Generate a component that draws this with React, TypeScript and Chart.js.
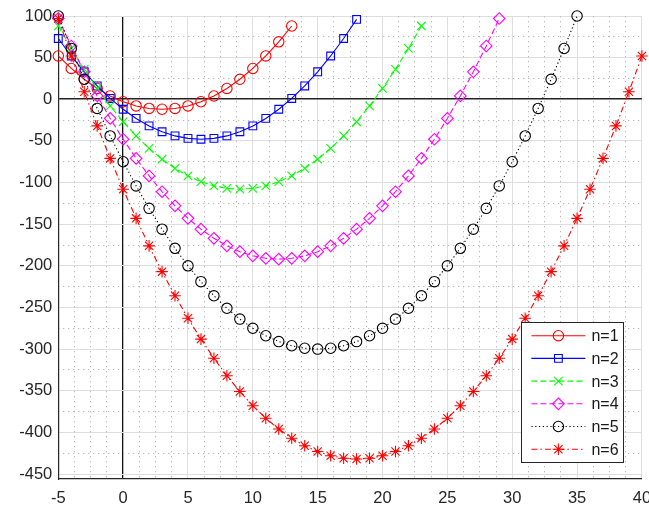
import React, { useEffect, useRef } from 'react';
import { Chart, registerables } from 'chart.js';

Chart.register(...registerables);

// x positions shared by all series (each series uses the first N values)
const X = [-5, -4, -3, -2, -1, 0, 1, 2, 3, 4, 5, 6, 7, 8, 9, 10, 11, 12, 13, 14, 15, 16, 17, 18, 19, 20,
  21, 22, 23, 24, 25, 26, 27, 28, 29, 30, 31, 32, 33, 34, 35, 36, 37, 38, 39, 40];

const Y_N1 = [52, 37, 24, 13, 4, -3, -8, -11, -12, -11, -8, -3, 4, 13, 24, 37, 52, 69, 88];
const Y_N2 = [73, 52, 33, 16, 1, -12, -23, -32, -39, -44, -47, -48, -47, -44, -39, -32, -23, -12, 1, 16, 33, 52, 73, 96];
const Y_N3 = [88, 61, 36, 13, -8, -27, -44, -59, -72, -83, -92, -99, -104, -107, -108, -107, -104, -99, -92, -83,
  -72, -59, -44, -27, -8, 13, 36, 61, 88];
const Y_N4 = [97, 64, 33, 4, -23, -48, -71, -92, -111, -128, -143, -156, -167, -176, -183, -188, -191, -192, -191,
  -188, -183, -176, -167, -156, -143, -128, -111, -92, -71, -48, -23, 4, 33, 64, 97];
const Y_N5 = [100, 61, 24, -11, -44, -75, -104, -131, -156, -179, -200, -219, -236, -251, -264, -275, -284, -291,
  -296, -299, -300, -299, -296, -291, -284, -275, -264, -251, -236, -219, -200, -179, -156, -131, -104, -75, -44,
  -11, 24, 61, 100];
const Y_N6 = [97, 52, 9, -32, -71, -108, -143, -176, -207, -236, -263, -288, -311, -332, -351, -368, -383, -396,
  -407, -416, -423, -428, -431, -432, -431, -428, -423, -416, -407, -396, -383, -368, -351, -332, -311, -288, -263,
  -236, -207, -176, -143, -108, -71, -32, 9, 52];

const SERIES_LABELS = ['n=1', 'n=2', 'n=3', 'n=4', 'n=5', 'n=6'];
const SERIES_Y = [Y_N1, Y_N2, Y_N3, Y_N4, Y_N5, Y_N6];

const X_MIN = -5;
const X_MAX = 40;
const X_STEP = 5;
const Y_MIN = -456;
const Y_MAX = 100;
const Y_STEP = 50;

// styles
const COLORS = ['#ff0000', '#0000ff', '#00ff00', '#ff00ff', '#000000', '#ff0000'];
const MARKERS = ['circle', 'rect', 'crossRot', 'rectRot', 'circle', 'star'];
const MARKER_R = [5.2, 5.5, 6, 5.8, 5.2, 5.8];
const DASHES: number[][] = [[], [], [6, 3], [6, 3], [1.2, 2.6], [6, 3, 1.5, 3]];

const FONT = '"Liberation Sans", Arial, Helvetica, sans-serif';
const TICK_COLOR = '#262626';

function drawMarker(ctx: CanvasRenderingContext2D, style: string, x: number, y: number, r: number, color: string) {
  ctx.save();
  ctx.strokeStyle = color;
  ctx.lineWidth = 1.1;
  ctx.setLineDash([]);
  ctx.beginPath();
  if (style === 'circle') {
    ctx.arc(x, y, r, 0, Math.PI * 2);
  } else if (style === 'rect') {
    const s = r * Math.SQRT1_2;
    ctx.rect(x - s, y - s, 2 * s, 2 * s);
  } else if (style === 'crossRot') {
    const d = r * Math.SQRT1_2;
    ctx.moveTo(x - d, y - d); ctx.lineTo(x + d, y + d);
    ctx.moveTo(x + d, y - d); ctx.lineTo(x - d, y + d);
  } else if (style === 'rectRot') {
    ctx.moveTo(x, y - r); ctx.lineTo(x + r, y); ctx.lineTo(x, y + r); ctx.lineTo(x - r, y); ctx.closePath();
  } else if (style === 'star') {
    const d = r * Math.SQRT1_2;
    ctx.moveTo(x - r, y); ctx.lineTo(x + r, y);
    ctx.moveTo(x, y - r); ctx.lineTo(x, y + r);
    ctx.moveTo(x - d, y - d); ctx.lineTo(x + d, y + d);
    ctx.moveTo(x + d, y - d); ctx.lineTo(x - d, y + d);
  }
  ctx.stroke();
  ctx.restore();
}

const legendPlugin = {
  id: 'matlabLegend',
  afterDraw(chart: any) {
    const ctx: CanvasRenderingContext2D = chart.ctx;
    const area = chart.chartArea;
    const w = 102;
    const h = 140;
    const L = area.right - 18.5;
    const left = L - w;
    const top = area.bottom - 17 - h;
    ctx.save();
    ctx.fillStyle = '#ffffff';
    ctx.fillRect(left, top, w, h);
    ctx.strokeStyle = '#262626';
    ctx.lineWidth = 1;
    ctx.strokeRect(Math.round(left) + 0.5, Math.round(top) + 0.5, w, h);
    SERIES_LABELS.forEach((label, i) => {
      const cy = top + 13.7 + i * 22.7;
      ctx.save();
      ctx.strokeStyle = COLORS[i];
      ctx.lineWidth = 1.1;
      ctx.setLineDash(DASHES[i]);
      ctx.beginPath();
      ctx.moveTo(left + 10, cy);
      ctx.lineTo(left + 64, cy);
      ctx.stroke();
      ctx.restore();
      drawMarker(ctx, MARKERS[i], left + 37, cy, MARKER_R[i], COLORS[i]);
      ctx.fillStyle = '#1a1a1a';
      ctx.font = `16px ${FONT}`;
      ctx.textBaseline = 'middle';
      ctx.textAlign = 'left';
      ctx.fillText(label, left + 70, cy + 1);
    });
    ctx.restore();
  },
};

const isMultiple = (v: number, step: number) => Math.abs(v / step - Math.round(v / step)) < 1e-6;

export default function App() {
  const canvasRef = useRef<HTMLCanvasElement | null>(null);

  useEffect(() => {
    document.body.style.margin = '0';
    const canvas = canvasRef.current;
    if (!canvas) return;

    const datasets = SERIES_Y.map((ys, i) => ({
      label: SERIES_LABELS[i],
      data: ys.map((y, k) => ({ x: X[k], y })),
      borderColor: COLORS[i],
      backgroundColor: 'rgba(0,0,0,0)',
      borderWidth: 1.1,
      borderDash: DASHES[i],
      pointStyle: MARKERS[i],
      pointRadius: MARKER_R[i],
      pointBorderWidth: 1.1,
      pointBorderColor: COLORS[i],
      pointBackgroundColor: 'rgba(0,0,0,0)',
      pointHoverRadius: MARKER_R[i],
      tension: 0,
      fill: false,
      clip: false as any,
      order: SERIES_LABELS.length - i,
      xAxisID: 'x',
      yAxisID: 'y',
    }));

    const tickFont = { family: FONT, size: 16.5 };

    const chart = new Chart(canvas, {
      type: 'line',
      data: { datasets },
      plugins: [legendPlugin],
      options: {
        animation: false,
        responsive: false,
        devicePixelRatio: 1,
        layout: { padding: { left: 0, top: 16, right: 5.7, bottom: 0 } },
        plugins: { legend: { display: false }, tooltip: { enabled: false } },
        events: [],
        scales: {
          x: {
            type: 'linear',
            position: 'bottom',
            min: X_MIN,
            max: X_MAX,
            ticks: {
              stepSize: X_STEP,
              includeBounds: false,
              autoSkip: false,
              maxRotation: 0,
              color: TICK_COLOR,
              font: tickFont,
              padding: 10,
            },
            grid: {
              drawTicks: false,
              color: (c: any) => (c.tick && c.tick.value === 0 ? '#111111' : '#dedede'),
              lineWidth: (c: any) => (c.tick && c.tick.value === 0 ? 1.3 : 1),
            },
            border: { display: true, color: '#262626', width: 1.2 },
            afterFit: (s: any) => { s.height = 31; s.paddingLeft = 0; s.paddingRight = 0; },
          },
          y: {
            type: 'linear',
            position: 'left',
            min: Y_MIN,
            max: Y_MAX,
            ticks: {
              stepSize: Y_STEP,
              includeBounds: false,
              autoSkip: false,
              color: TICK_COLOR,
              font: tickFont,
              padding: 6,
            },
            grid: {
              drawTicks: false,
              color: (c: any) => (c.tick && c.tick.value === 0 ? '#222222' : '#dedede'),
              lineWidth: (c: any) => (c.tick && c.tick.value === 0 ? 1.6 : 1),
            },
            border: { display: true, color: '#262626', width: 1.2 },
            afterFit: (s: any) => { s.width = 58.3; s.paddingTop = 0; s.paddingBottom = 0; },
          },
          xMinor: {
            type: 'linear',
            axis: 'x',
            position: 'bottom',
            min: X_MIN,
            max: X_MAX,
            ticks: { display: false, stepSize: 1.25, includeBounds: false, autoSkip: false },
            grid: {
              drawTicks: false,
              color: (c: any) => (c.tick && isMultiple(c.tick.value, X_STEP) ? 'rgba(0,0,0,0)' : '#b8b8b8'),
              borderDash: [1.3, 3.7],
            } as any,
            border: { display: false, dash: [1.3, 3.7] },
            afterFit: (s: any) => { s.height = 0; s.paddingLeft = 0; s.paddingRight = 0; },
          } as any,
          yMinor: {
            type: 'linear',
            axis: 'y',
            position: 'left',
            min: Y_MIN,
            max: Y_MAX,
            ticks: { display: false, stepSize: 25, includeBounds: false, autoSkip: false },
            grid: {
              drawTicks: false,
              color: (c: any) => (c.tick && isMultiple(c.tick.value, Y_STEP) ? 'rgba(0,0,0,0)' : '#b8b8b8'),
              borderDash: [1.3, 3.7],
            } as any,
            border: { display: false, dash: [1.3, 3.7] },
            afterFit: (s: any) => { s.width = 0; s.paddingTop = 0; s.paddingBottom = 0; },
          } as any,
        },
      } as any,
    });

    return () => chart.destroy();
  }, []);

  return (
    <div style={{ width: 649, height: 510, background: '#ffffff' }}>
      <canvas ref={canvasRef} width={649} height={510} style={{ display: 'block' }} />
    </div>
  );
}
